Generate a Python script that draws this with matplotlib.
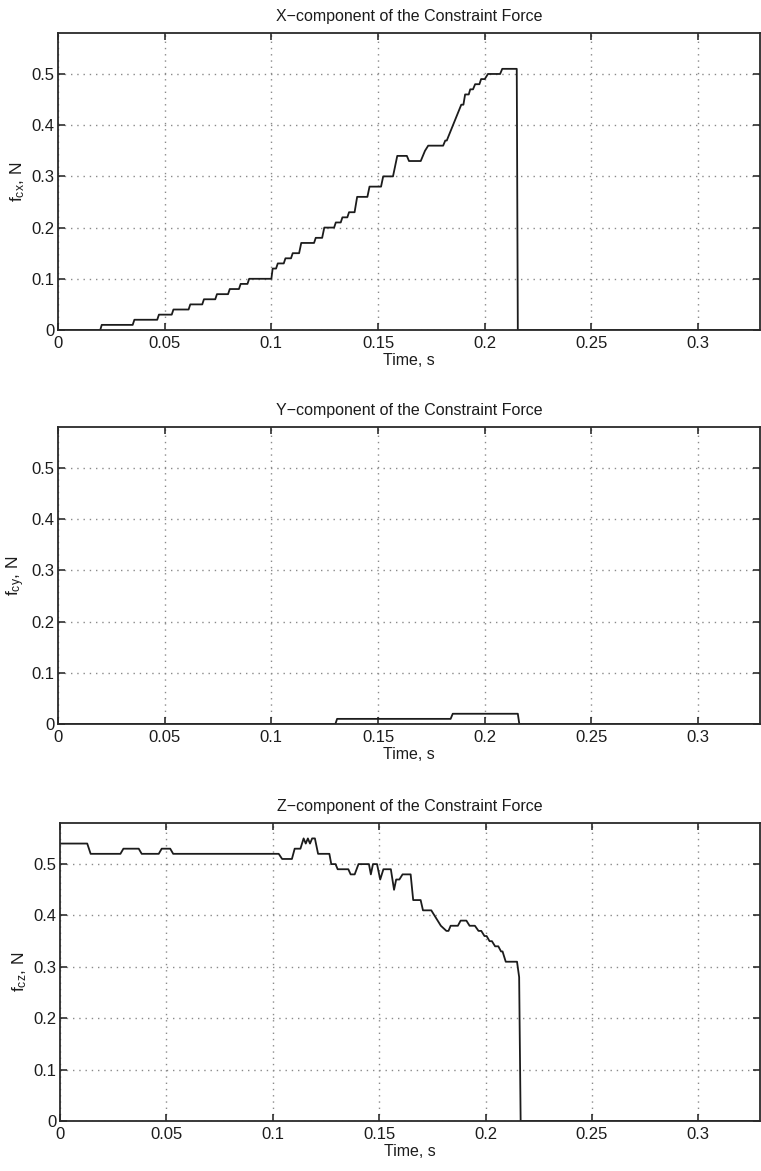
import matplotlib
matplotlib.use("Agg")
import matplotlib.pyplot as plt

plt.rcParams['font.family'] = ['Liberation Sans', 'DejaVu Sans']
plt.rcParams['mathtext.default'] = 'regular'

# ---------------- data ----------------
t_x = [0, 0.0198, 0.0205, 0.0350, 0.0358, 0.0465, 0.0473, 0.0533, 0.0541,
       0.0612, 0.0620, 0.0676, 0.0684, 0.0737, 0.0745, 0.0797, 0.0805,
       0.0848, 0.0856, 0.0888, 0.0896, 0.1000, 0.1006, 0.1022, 0.1030,
       0.1058, 0.1066, 0.1092, 0.1100, 0.1130, 0.1140, 0.1200, 0.1208,
       0.1238, 0.1248, 0.1294, 0.1302, 0.1325, 0.1333, 0.1356, 0.1364,
       0.1390, 0.1402, 0.1450, 0.1460, 0.1514, 0.1524, 0.1570, 0.1590,
       0.1635, 0.1645, 0.1700, 0.1720, 0.1735, 0.1805, 0.1815, 0.1822,
       0.1890, 0.1900, 0.1908, 0.1925, 0.1932, 0.1945, 0.1955, 0.1975,
       0.1983, 0.2000, 0.2015, 0.2072, 0.2082, 0.2150, 0.2155, 0.3300]
f_cx = [0, 0, 0.01, 0.01, 0.02, 0.02, 0.03, 0.03, 0.04,
        0.04, 0.05, 0.05, 0.06, 0.06, 0.07, 0.07, 0.08,
        0.08, 0.09, 0.09, 0.10, 0.10, 0.12, 0.12, 0.13,
        0.13, 0.14, 0.14, 0.15, 0.15, 0.17, 0.17, 0.18,
        0.18, 0.20, 0.20, 0.21, 0.21, 0.22, 0.22, 0.23,
        0.23, 0.26, 0.26, 0.28, 0.28, 0.30, 0.30, 0.34,
        0.34, 0.33, 0.33, 0.35, 0.36, 0.36, 0.37, 0.37,
        0.44, 0.44, 0.46, 0.46, 0.47, 0.47, 0.48, 0.48,
        0.49, 0.49, 0.50, 0.50, 0.51, 0.51, 0.0, 0.0]

t_y = [0, 0.1300, 0.1308, 0.1840, 0.1850, 0.2155, 0.2162, 0.3300]
f_cy = [0, 0, 0.01, 0.01, 0.02, 0.02, 0.0, 0.0]

t_z = [0, 0.0128, 0.0144, 0.0284, 0.0298, 0.0370, 0.0384, 0.0464, 0.0478,
       0.0518, 0.0532, 0.1028, 0.1044, 0.1090, 0.1103, 0.1130, 0.1145,
       0.1155, 0.1165, 0.1175, 0.1185, 0.1198, 0.1213, 0.1266, 0.1275,
       0.1295, 0.1305, 0.1355, 0.1366, 0.1385, 0.1403, 0.1452, 0.1461,
       0.1471, 0.1490, 0.1505, 0.1520, 0.1555, 0.1570, 0.1580, 0.1595,
       0.1610, 0.1648, 0.1660, 0.1695, 0.1706, 0.1745, 0.1760, 0.1775,
       0.1790, 0.1816, 0.1826, 0.1836, 0.1870, 0.1883, 0.1910, 0.1925,
       0.1950, 0.1967, 0.1980, 0.1995, 0.2005, 0.2019, 0.2030, 0.2045,
       0.2060, 0.2073, 0.2080, 0.2095, 0.2148, 0.2158, 0.2165, 0.3300]
f_cz = [0.54, 0.54, 0.52, 0.52, 0.53, 0.53, 0.52, 0.52, 0.53,
        0.53, 0.52, 0.52, 0.51, 0.51, 0.53, 0.53, 0.55,
        0.54, 0.55, 0.54, 0.55, 0.55, 0.52, 0.52, 0.50,
        0.50, 0.49, 0.49, 0.48, 0.48, 0.50, 0.50, 0.48,
        0.50, 0.50, 0.47, 0.49, 0.49, 0.45, 0.47, 0.47,
        0.48, 0.48, 0.43, 0.43, 0.41, 0.41, 0.40, 0.39,
        0.38, 0.37, 0.37, 0.38, 0.38, 0.39, 0.39, 0.38,
        0.38, 0.37, 0.37, 0.36, 0.36, 0.35, 0.35, 0.34,
        0.34, 0.33, 0.33, 0.31, 0.31, 0.28, 0.0, 0.0]

x_ticks = [0, 0.05, 0.1, 0.15, 0.2, 0.25, 0.3]
x_ticklabels = ['0', '0.05', '0.1', '0.15', '0.2', '0.25', '0.3']
y_ticks = [0, 0.1, 0.2, 0.3, 0.4, 0.5]
y_ticklabels = ['0', '0.1', '0.2', '0.3', '0.4', '0.5']

titles = ['X\u2212component of the Constraint Force',
          'Y\u2212component of the Constraint Force',
          'Z\u2212component of the Constraint Force']
ylabels = [r'$f_{cx}$, N', r'$f_{cy}$, N', r'$f_{cz}$, N']
xlabel = 'Time, s'

series = [(t_x, f_cx), (t_y, f_cy), (t_z, f_cz)]

# ---------------- layout ----------------
W, H = 761, 1171
fig = plt.figure(figsize=(W / 100, H / 100), dpi=100)

# (left px, top px, bottom px)
boxes = [(58, 33, 330), (58, 427, 724), (60, 823, 1121)]
right_px = 760
ink = '#1c1c1c'

for (l, tp, bt), (tt, ff), title, ylab in zip(boxes, series, titles, ylabels):
    ax = fig.add_axes([l / W, 1 - bt / H, (right_px - l) / W, (bt - tp) / H])
    ax.plot(tt, ff, color=ink, lw=1.3)
    ax.set_xlim(0, 0.329)
    ax.set_ylim(0, 0.58)
    ax.set_xticks(x_ticks)
    ax.set_xticklabels(x_ticklabels)
    ax.set_yticks(y_ticks)
    ax.set_yticklabels(y_ticklabels)
    ax.tick_params(direction='in', length=5, width=1.1, top=True, right=True,
                   labelsize=12, colors=ink)
    ax.tick_params(axis='x', pad=4)
    ax.tick_params(axis='y', pad=2.5)
    ax.grid(True, color='#8a8a8a', linestyle=(0, (1, 3.5)), linewidth=1.0)
    for s in ax.spines.values():
        s.set_linewidth(1.3)
        s.set_color('#2a2a2a')
    ax.set_title(title, fontsize=11.5, pad=8.5, color=ink)
    ax.set_xlabel(xlabel, fontsize=11.5, labelpad=1.5, color=ink)
    ax.set_ylabel(ylab, fontsize=12.5, color=ink)
    ax.yaxis.set_label_coords(-0.044, 0.5)

fig.savefig('out.png', dpi=100)
